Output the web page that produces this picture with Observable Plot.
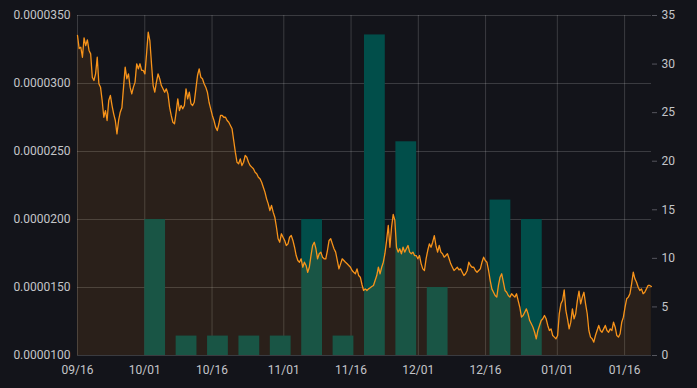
<!DOCTYPE html>
<html><head><meta charset="utf-8">
<script src="https://cdn.jsdelivr.net/npm/d3@7"></script>
<script src="https://cdn.jsdelivr.net/npm/@observablehq/plot@0.6"></script>
<style>
html,body{margin:0;padding:0;background:#13141a;}
</style></head><body><div id="chart"></div>
<script>
// price series (units of 1e-5), sampled every 8.8 hours from 2023-09-16
const priceStart = "2023-09-16T00:00:00Z";
const priceStepHours = 8.8;
const priceE5 = [
3.353,3.257,3.267,3.193,3.336,3.279,3.321,3.243,3.218,3.046,
3.022,3.071,3.193,2.998,2.973,2.875,2.752,2.801,2.728,2.875,
2.912,2.838,2.777,2.728,2.630,2.728,2.789,2.821,2.973,3.120,
3.035,3.071,2.973,2.924,2.973,3.010,3.145,3.108,3.145,3.096,
3.096,3.071,3.218,3.377,3.316,3.145,2.985,2.936,3.010,3.071,
3.035,2.985,2.961,2.936,2.961,2.924,2.826,2.765,
2.715,2.704,2.789,2.887,2.801,2.838,2.814,2.838,2.961,2.887,2.936,2.851,
2.838,2.862,2.961,3.059,3.108,3.046,3.035,2.998,2.973,2.936,
2.862,2.814,2.765,2.728,2.679,2.654,2.704,2.765,2.765,2.752,
2.752,2.728,2.715,2.691,2.667,2.581,2.495,2.421,2.410,2.446,
2.397,2.421,2.471,2.458,2.421,2.397,2.385,2.373,2.348,2.336,
2.311,2.299,2.274,2.237,2.201,2.152,
2.115,2.066,2.103,2.054,2.017,1.943,1.858,1.833,1.895,1.870,
1.846,1.809,1.821,1.870,1.882,1.846,1.796,1.735,1.699,1.686,
1.711,1.649,1.686,1.662,1.612,1.649,1.735,1.809,1.833,1.785,
1.711,1.748,1.760,1.723,1.711,1.711,1.772,1.846,1.858,1.821,
1.785,1.760,1.699,1.637,1.674,1.711,1.699,1.686,1.674,1.662,
1.649,1.625,1.612,1.601,1.637,1.588,1.576,
1.522,1.478,1.490,1.478,1.490,1.498,1.507,1.515,1.551,1.588,
1.649,1.601,1.649,1.686,1.752,1.846,1.956,1.796,1.943,2.037,
1.993,1.796,1.760,1.785,1.748,1.796,1.760,1.785,1.809,1.760,
1.748,1.760,1.735,1.735,1.711,1.735,1.674,1.637,1.625,1.711,
1.772,1.821,1.796,1.833,1.882,1.809,1.760,1.809,1.760,1.748,
1.723,1.735,1.748,1.711,1.674,1.649,1.625,
1.637,1.649,1.630,1.637,1.612,1.588,1.601,1.625,1.686,1.662,
1.649,1.649,1.625,1.612,1.625,1.637,1.686,1.723,1.699,1.686,
1.625,1.551,1.490,1.465,1.441,1.429,1.515,1.576,1.601,1.539,
1.478,1.465,1.441,1.429,1.454,1.441,1.429,1.454,1.404,1.355,
1.282,1.294,1.318,1.343,1.307,1.257,1.233,1.208,1.171,1.123,
1.184,1.221,1.257,1.270,1.294,1.270,1.221,1.184,
1.196,1.147,1.135,1.123,1.147,1.307,1.380,1.404,1.483,1.331,
1.270,1.196,1.245,1.343,1.270,1.307,1.404,1.473,1.380,1.429,
1.465,1.380,1.307,1.184,1.135,1.123,1.098,1.147,1.184,1.221,
1.184,1.171,1.196,1.221,1.184,1.171,1.196,1.184,1.245,1.208,
1.147,1.135,1.160,1.245,1.282,1.355,1.417,1.429,1.454,1.527,
1.612,1.564,1.539,1.502,1.478,1.490,1.454,1.465,1.490,1.515,1.515,1.507
];
// weekly counts (right axis)
const weekStarts = ["2023-10-01","2023-10-08","2023-10-15","2023-10-22","2023-10-29","2023-11-05","2023-11-12","2023-11-19","2023-11-26","2023-12-03","2023-12-10","2023-12-17","2023-12-24"];
const weekCounts = [14,2,2,2,2,14,2,33,22,7,0,16,14];
// axis ticks
const leftTicks = [0.00001,0.000015,0.00002,0.000025,0.00003,0.000035];
const rightTicks = [0,5,10,15,20,25,30,35];
const xTickLabels = ["2023-09-16","2023-10-01","2023-10-16","2023-11-01","2023-11-16","2023-12-01","2023-12-16","2024-01-01","2024-01-16"];
const xDomain = ["2023-09-16","2024-01-22"];

const t0 = new Date(priceStart);
const priceData = priceE5.map((v,i)=>({date:new Date(+t0 + i*priceStepHours*3600e3), price:v*1e-5}));
const yMin = 0.00001, yMax = 0.000035;
const rScale = d3.scaleLinear().domain([0,35]).range([yMin,yMax]);
const bars = weekStarts.map((d,i)=>({start:new Date(d), end:d3.utcDay.offset(new Date(d),7), count:weekCounts[i]}));
const xTicks = xTickLabels.map(d=>new Date(d));

const chart = Plot.plot({
  width:697, height:388,
  marginLeft:77, marginRight:46, marginTop:15, marginBottom:33,
  style:{background:"#13141a", color:"#c4c5c9", fontFamily:"Roboto", fontSize:"12px"},
  x:{type:"utc", domain:xDomain.map(d=>new Date(d)), axis:null},
  y:{domain:[yMin,yMax], axis:null},
  marks:[
    Plot.gridY({ticks:leftTicks, stroke:"#ffffff", strokeOpacity:0.17}),
    Plot.gridX({ticks:xTicks, stroke:"#ffffff", strokeOpacity:0.17}),
    Plot.rectY(bars, {x1:"start", x2:"end", y1:yMin, y2:d=>rScale(d.count), fill:"#014e4a", insetRight:10.6}),
    Plot.areaY(priceData, {x:"date", y1:yMin, y2:"price", fill:"#f7931a", fillOpacity:0.1}),
    Plot.lineY(priceData, {x:"date", y:"price", stroke:"#f7931a", strokeWidth:1.3}),
    Plot.axisY({ticks:leftTicks, anchor:"left", tickSize:0, tickPadding:7, tickFormat:d3.format(".7f"), label:null}),
    Plot.axisY({ticks:rightTicks.map(rScale), anchor:"right", tickSize:5, tickPadding:5, tickFormat:d=>String(Math.round(rScale.invert(d))), stroke:"#55565e", fill:"#c4c5c9", label:null}),
    Plot.axisX({ticks:xTicks, tickSize:0, tickPadding:10, tickFormat:d3.utcFormat("%m/%d"), label:null})
  ]
});
document.getElementById("chart").appendChild(chart);
</script></body></html>
